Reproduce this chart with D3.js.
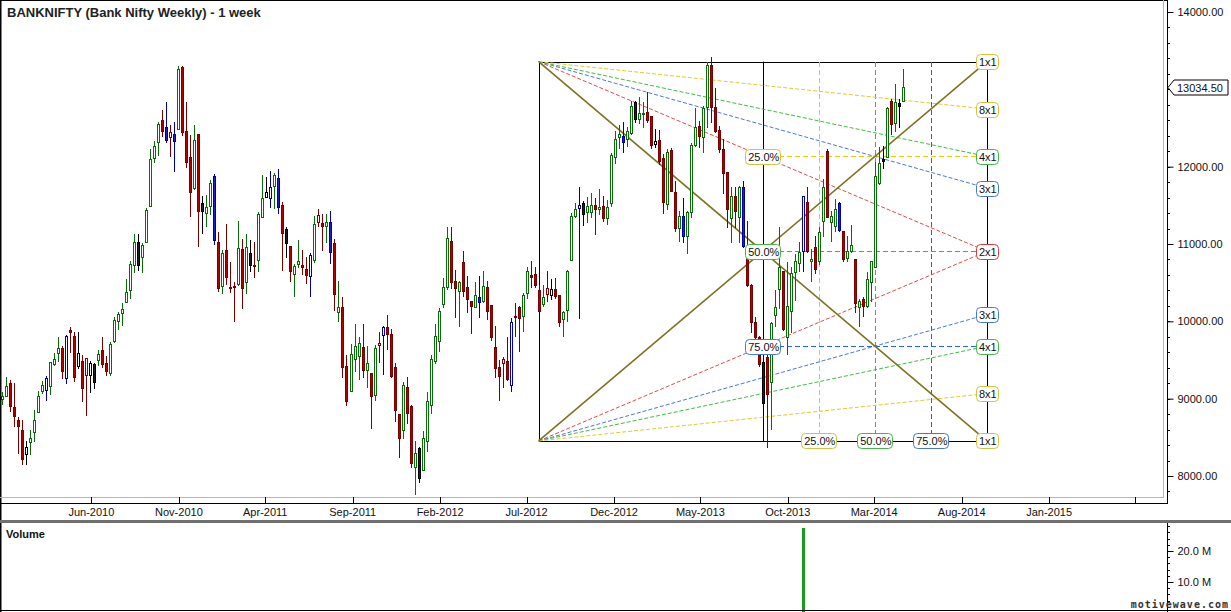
<!DOCTYPE html>
<html><head><meta charset="utf-8">
<script src="https://cdn.jsdelivr.net/npm/d3@7/dist/d3.min.js"></script>
<style>
html,body{margin:0;padding:0;background:#fff;}
svg{display:block;font-family:"Liberation Sans",Arial,Helvetica,sans-serif;}
</style></head><body>
<svg id="chart" width="1231" height="612"></svg>
<script>
// ---------------- DATA ----------------
const title = "BANKNIFTY (Bank Nifty Weekly) - 1 week";
const firstWeek = "2009-12-28";   // weekly bars, one per week from here
const opens = [8995,9038,9202,8895,8727,8598,8283,8434,8563,8822,9102,9111,9158,9447,9590,9659,9266,9892,9814,9417,
9490,9305,9305,9447,9499,9628,9460,9331,9741,10000,10107,10254,10405,10728,11030,10827,11030,11487,12112,12315,
12608,12518,12380,12423,12487,13294,12462,12129,11720,12422,11530,11400,11487,11883,11030,10452,10926,10447,10456,10482,
10935,10504,10883,10732,10792,11344,11603,11594,11745,11853,11508,11193,10978,10611,10741,10732,10680,10581,10797,11280,
11271,11228,11288,11017,10115,10189,9426,9094,9512,9546,9671,9369,9331,9046,9693,9823,9930,9836,9413,8801,
8594,9154,8908,8111,8356,8076,8447,8921,9491,9741,10224,10448,11043,10525,10396,10771,10448,10267,10180,10310,
10267,10439,10215,9672,9413,9456,9490,9176,10073,10180,10064,10362,10603,10612,10409,10224,10353,10340,10418,10340,
10030,10146,10793,11358,11466,11530,11410,11410,11509,11453,11496,11332,11530,12130,12389,12401,12358,12432,12841,12617,
12682,12712,12660,12294,12345,12113,11517,12216,11668,11207,11367,11108,11410,12281,12531,12389,12768,13320,12777,12479,
12229,11927,11336,11625,11345,11733,10979,10474,9987,9801,9469,9534,9211,10082,10418,10655,9793,10138,10634,10754,
10914,11548,10776,10966,10785,11302,12207,11280,11237,11526,11173,10819,10914,10806,10189,10289,10202,10504,10698,11789,
12095,12130,12854,12561,12824,12854];
const highs = [9081,9275,9245,9202,8757,8727,8456,8598,8857,9102,9232,9296,9478,9590,9801,9676,9823,9930,9866,9857,
9568,9525,9490,9460,9633,9801,9555,9728,10060,10124,10236,10547,10784,11129,11129,11013,11465,12229,12336,12582,
12737,12832,12539,12582,13307,13307,12832,12414,12543,12422,11625,11633,11832,11905,11159,10926,11258,10771,10512,11301,
11064,11129,11055,11021,11418,11896,11862,11948,11918,11970,11547,11215,10978,10741,11055,10926,10827,10879,11366,11452,
11387,11387,11431,11064,10525,10318,9563,9706,9965,9801,9965,9684,9331,9697,9866,9935,10081,9900,9460,8801,
9219,9275,8921,8456,8369,8585,9081,9568,9965,10168,10556,11215,11224,10663,10525,10914,10590,10267,10504,10590,
10646,10525,10215,9935,9503,9534,9792,10038,10232,10202,10362,10698,10784,10706,10469,10469,10646,10547,10560,10340,
10138,10668,11401,11530,11742,11561,11612,11660,11595,11712,11617,11574,12177,12466,12544,12574,12509,12846,12846,12906,
12833,12962,12660,12488,12475,12164,12229,12242,11819,11431,11595,11431,12307,12759,12596,12790,13350,13423,13018,12522,
12358,11927,11733,11733,11755,11819,11293,10483,10051,9814,9491,9685,9987,10405,11216,10655,10763,10698,10871,11022,
11626,11733,10935,11108,11216,11841,12229,11431,11582,11539,11173,11108,11250,10806,10289,10319,10634,10785,12057,12250,
12272,12777,12876,13070,12876,13264];
const lows = [8930,9029,8844,8650,8296,8154,8154,8283,8447,8822,9072,8982,9059,9434,9482,9262,9202,9598,9232,9391,
8964,8792,9081,9133,9434,9413,9305,9305,9728,9900,9952,10245,10297,10633,10668,10642,11021,11487,12056,12155,
12401,12315,12134,11948,12487,12414,12000,11357,11711,10969,11137,11228,11387,11000,10387,10366,10482,10374,10008,10473,
10167,10361,10646,10577,10654,11344,11603,11482,11465,11396,10667,10827,10516,10331,10706,10611,10491,10331,10762,11228,
10926,11021,10749,10146,10000,9275,8917,9094,9352,9253,9275,9154,8615,8982,9478,9318,9641,9275,8714,8240,
8486,8684,8119,7766,7917,8076,8318,8809,9456,9611,10180,10418,10430,10060,9935,10331,10116,9844,10180,10051,
10245,10030,9762,9275,8986,9146,9245,9102,9805,9611,9879,10301,10439,10448,10129,10202,10267,10289,10297,9944,
9806,9999,10793,11345,10038,11246,11280,11354,11129,11388,11302,11259,11496,12048,12238,12186,12263,12423,12574,12565,
12509,12574,12238,12251,12035,11397,11453,11681,11164,11043,11022,10884,11345,12272,12251,12186,12518,12574,12445,12186,
11655,11216,11022,11216,11022,10957,10461,9857,9750,9426,8939,8370,8607,9944,10172,9888,9577,9857,10276,10655,
10655,10892,10526,10621,10741,11108,11345,11035,11173,11173,10776,10785,10892,10116,9944,10073,10189,10267,10698,11776,
11983,12121,12423,12466,12518,12854];
const closes = [9038,9167,8900,8770,8641,8218,8369,8490,8723,9038,9176,9271,9469,9512,9654,9357,9814,9866,9275,9594,
9137,9525,9465,9219,9577,9447,9357,9710,10017,10094,10159,10383,10741,11030,10728,10987,11444,12099,12272,12552,
12466,12345,12453,12332,13263,12453,12056,11668,12349,11431,11422,11482,11788,11051,10426,10883,10568,10426,10439,10948,
10426,10965,10732,10711,11388,11594,11668,11741,11896,11474,11137,11008,10654,10711,10784,10706,10598,10861,11258,11379,
11228,11284,10892,10353,10189,9404,8964,9577,9684,9719,9369,9456,9029,9654,9719,9922,9836,9288,8852,8486,
9180,8809,8162,8296,7968,8490,8973,9512,9814,10137,10448,11077,10504,10426,10512,10387,10288,10202,10344,10245,
10461,10137,9792,9391,9296,9512,9253,9995,10051,10038,10344,10655,10577,10474,10129,10318,10431,10418,10323,9987,
10125,10646,11367,11453,11505,11388,11496,11509,11453,11483,11332,11483,12156,12358,12423,12315,12466,12790,12617,12690,
12699,12604,12281,12337,12069,11539,12194,11690,11207,11367,11108,11410,12281,12518,12401,12759,13320,12768,12466,12229,
11914,11453,11625,11423,11742,10979,10474,9987,9801,9448,8939,9060,9974,10189,10698,9900,10202,10620,10776,10901,
11617,10914,10810,10677,11151,11733,11354,11367,11453,11181,10806,10914,10991,10237,10267,10202,10547,10776,11884,12043,
12078,12759,12552,12841,12790,13034.5];
// bar-colour state of each bar as shown by the platform (g=green, r=red, b=blue, k=black)
const barState = "ggrrrrkggg"+"gbgggrbrrk"+"rrkkgrrggg"+"ggggkggggg"+"rbrbgrrrgr"+"kggbrgrrrg"+"rgkrggkbgb"+"rkrggrrbgr"+
"rgbrgrrggg"+"rgrgrbrrrr"+"grrgkggggg"+"ggrrgrrrgb"+"grrrrrrbrr"+"ggrrrgrkrr"+"ggggbkggrg"+"rggggbggkg"+
"grrkrrgrrg"+"bgggrggrrr"+"rrgrgbrrrr"+"krgggrgggg"+"brgrggrggb"+"rggrgrgggg"+"kgrgkg";
const lastPrice = 13034.50;
const priceTicks = [8000, 9000, 10000, 11000, 12000, 14000];
const timeTicks = ["2010-06-01","2010-11-01","2011-04-01","2011-09-01","2012-02-01","2012-07-01","2012-12-01",
                   "2013-05-01","2013-10-01","2014-03-01","2014-08-01","2015-01-01","2015-06-01"];
const timeTickLabels = ["Jun-2010","Nov-2010","Apr-2011","Sep-2011","Feb-2012","Jul-2012","Dec-2012",
                        "May-2013","Oct-2013","Mar-2014","Aug-2014","Jan-2015",""];
const volumeWeeks = ["2013-10-28"];
const volumeValues = [27.5e6];
const volumeTicks = [10e6, 20e6];
// Gann box
const gannStart = "2012-07-23", gannEnd = "2014-09-15";
const gannLow = 8453, gannHigh = 13358;
const fanRatios = [1, 8, 4, 3, 2];
const percentLevels = [0.25, 0.5, 0.75];

// ---------------- SETUP ----------------
const parse = d3.timeParse("%Y-%m-%d");
const t0 = parse(firstWeek);
const bars = opens.map((o, i) => ({
  date: d3.timeWeek.offset(t0, i), o, h: highs[i], l: lows[i], c: closes[i], s: barState[i]
}));

const svg = d3.select("#chart");
const W = 1231, H = 612;
const axisX = 1167, panelBottom = 497, axisY = 503, sepY = 521;

const x = d3.scaleTime().domain([new Date(2009, 11, 24), new Date(2015, 6, 27)]).range([0, axisX]);
const y = d3.scaleLinear().domain([8000, 14000]).range([476, 12]);
const yv = d3.scaleLinear().domain([0, 20e6]).range([613, 551]);

svg.append("rect").attr("width", W).attr("height", H).attr("fill", "#fff");

svg.append("clipPath").attr("id", "pclip").append("rect")
  .attr("x", 1).attr("y", 1).attr("width", axisX - 4).attr("height", panelBottom - 1);

// ---------------- GANN BOX ----------------
const g = svg.append("g").attr("clip-path", "url(#pclip)");
const gs = parse(gannStart), ge = parse(gannEnd);
const gm = new Date((+gs + +ge) / 2);
const xs = x(gs), xe = x(ge), xm = x(gm);
const yTop = y(gannHigh), yBot = y(gannLow);
const rng = gannHigh - gannLow;
const ratioColor = {1: "#d4c43a", 2: "#d83c3c", 3: "#4a78d0", 4: "#44b844", 8: "#d4c43a"};
const lineColor = {2: "#e04c4c", 3: "#4a78dc", 4: "#3cc03c", 8: "#dccc30"};
const pctColor = ["#d4c43a", "#44b844", "#4a78d0"];
const pctLine = ["#e8d000", "#1ecc1e", "#2860e8"];

g.append("rect").attr("x", Math.round(xs) + 0.5).attr("y", Math.round(yTop) + 0.5)
  .attr("width", Math.round(xe) - Math.round(xs)).attr("height", Math.round(yBot) - Math.round(yTop))
  .attr("fill", "none").attr("stroke", "#000").attr("stroke-width", 1);
g.append("line").attr("x1", Math.round(xm) + 0.5).attr("x2", Math.round(xm) + 0.5)
  .attr("y1", yTop).attr("y2", yBot).attr("stroke", "#000");

percentLevels.forEach((p, k) => {
  const vx = Math.round(x(new Date(+gm + p * (ge - gm)))) + 0.5;
  g.append("line").attr("x1", vx).attr("x2", vx).attr("y1", yTop).attr("y2", yBot)
    .attr("stroke", pctLine[k]).attr("stroke-dasharray", "5,3").attr("shape-rendering", "crispEdges");
  const hy = Math.round(y(gannHigh - p * rng)) + 0.5;
  g.append("line").attr("x1", xm).attr("x2", xe).attr("y1", hy).attr("y2", hy)
    .attr("stroke", pctLine[k]).attr("stroke-dasharray", "5,3").attr("shape-rendering", "crispEdges");
});

fanRatios.slice().reverse().forEach(r => {
  const yEndDown = y(gannHigh - rng / r), yEndUp = y(gannLow + rng / r);
  const dash = r === 1 ? null : "4,2";
  const col = r === 1 ? "#7e7222" : lineColor[r];
  const sw = r === 1 ? 1.6 : 1;
  g.append("line").attr("x1", xs).attr("y1", yTop).attr("x2", xe).attr("y2", yEndDown)
    .attr("stroke", col).attr("stroke-width", sw).attr("stroke-dasharray", dash);
  g.append("line").attr("x1", xs).attr("y1", yBot).attr("x2", xe).attr("y2", yEndUp)
    .attr("stroke", col).attr("stroke-width", sw).attr("stroke-dasharray", dash);
});

// ---------------- CANDLES ----------------
const colors = {
  g: {line: "#086c08", fill: "#086c08", hollowStroke: "#086c08"},
  r: {line: "#7a0000", fill: "#b00000", hollowStroke: "#8a0000"},
  b: {line: "#0000a0", fill: "#2020c8", hollowStroke: "#0000b0"},
  k: {line: "#000000", fill: "#202020", hollowStroke: "#000000"}
};
const cg = svg.append("g").attr("clip-path", "url(#pclip)").attr("shape-rendering", "crispEdges");
bars.forEach(b => {
  const px = Math.round(x(b.date));
  const col = colors[b.s];
  cg.append("line").attr("x1", px + 0.5).attr("x2", px + 0.5)
    .attr("y1", Math.round(y(b.h))).attr("y2", Math.round(y(b.l)) + 1)
    .attr("stroke", col.line).attr("stroke-width", 1);
  const yt = Math.round(y(Math.max(b.o, b.c))), yb = Math.round(y(Math.min(b.o, b.c)));
  const hollow = b.c > b.o;
  cg.append("rect").attr("x", px - 0.5).attr("y", yt + 0.5)
    .attr("width", 2).attr("height", Math.max(1, yb - yt))
    .attr("fill", hollow ? "#fff" : col.fill)
    .attr("stroke", hollow ? col.hollowStroke : col.line).attr("stroke-width", 1);
});

// ---------------- GANN LABELS ----------------
function tag(cx, cy, text, color, w) {
  const h = 15;
  svg.append("rect").attr("x", Math.round(cx - w / 2) + 0.5).attr("y", Math.round(cy - h / 2) + 0.5)
    .attr("width", w).attr("height", h).attr("rx", 4).attr("ry", 4)
    .attr("fill", "#fff").attr("stroke", color).attr("stroke-width", 1);
  svg.append("text").attr("x", cx + 1).attr("y", cy + 4.5).attr("text-anchor", "middle")
    .attr("font-size", 11).attr("fill", "#111").text(text);
}
percentLevels.forEach((p, k) => {
  tag(xm, y(gannHigh - p * rng), (p * 100).toFixed(1) + "%", pctColor[k], 35);
  tag(x(new Date(+gm + p * (ge - gm))), yBot, (p * 100).toFixed(1) + "%", pctColor[k], 35);
});
fanRatios.forEach(r => {
  tag(xe, y(gannHigh - rng / r), r + "x1", ratioColor[r], 22);
  if (r !== 2) tag(xe, y(gannLow + rng / r), r + "x1", ratioColor[r], 22);
});

// ---------------- FRAME & AXES ----------------
svg.append("line").attr("x1", 0).attr("x2", axisX).attr("y1", 0.5).attr("y2", 0.5).attr("stroke", "#000");
svg.append("line").attr("x1", 0.5).attr("x2", 0.5).attr("y1", 0).attr("y2", H).attr("stroke", "#000").attr("stroke-width", 2);
svg.append("line").attr("x1", 0).attr("x2", axisX - 3).attr("y1", panelBottom + 0.5).attr("y2", panelBottom + 0.5)
  .attr("stroke", "#b8b8a8");
svg.append("line").attr("x1", axisX - 3.5).attr("x2", axisX - 3.5).attr("y1", 0).attr("y2", panelBottom + 1)
  .attr("stroke", "#b8b8a8");

const xAxis = d3.axisBottom(x)
  .tickValues(timeTicks.map(parse))
  .tickFormat((d, i) => timeTickLabels[i])
  .tickSize(0).tickPadding(0);
const xa = svg.append("g").attr("transform", `translate(0,${axisY})`).call(xAxis);
xa.select(".domain").remove();
xa.selectAll(".tick line").remove();
xa.selectAll(".tick").append("line").attr("x1", 0.5).attr("x2", 0.5).attr("y1", -6).attr("y2", 0)
  .attr("stroke", "#000").attr("shape-rendering", "crispEdges");
xa.selectAll(".tick text").attr("y", 13).attr("dy", 0).attr("font-size", 11)
  .attr("font-family", "'Liberation Sans', Arial, sans-serif").attr("fill", "#111");
svg.append("line").attr("x1", 0).attr("x2", axisX).attr("y1", axisY + 0.5).attr("y2", axisY + 0.5)
  .attr("stroke", "#000");

const yAxis = d3.axisRight(y).tickValues(priceTicks).tickFormat(d3.format(".2f")).tickSize(6).tickPadding(4);
const ya = svg.append("g").attr("transform", `translate(${axisX + 0.5},0)`).call(yAxis);
ya.select(".domain").remove();
ya.selectAll(".tick text").attr("font-size", 11).attr("fill", "#111")
  .attr("font-family", "'Liberation Sans', Arial, sans-serif");
const minorTicks = d3.range(7800, 14200, 200).filter(v => y(v) > 1 && y(v) < axisY);
svg.append("g").selectAll("line").data(minorTicks).join("line")
  .attr("x1", axisX).attr("x2", axisX + 3)
  .attr("y1", d => Math.round(y(d)) + 0.5).attr("y2", d => Math.round(y(d)) + 0.5)
  .attr("stroke", "#000").attr("shape-rendering", "crispEdges");
svg.append("line").attr("x1", axisX + 0.5).attr("x2", axisX + 0.5).attr("y1", 0).attr("y2", axisY + 1)
  .attr("stroke", "#000");

const ly = Math.round(y(lastPrice)) + 0.5;
svg.append("path").attr("d", `M${axisX + 1},${ly} L${axisX + 7},${ly - 7.5} L${W - 3},${ly - 7.5} L${W - 3},${ly + 7.5} L${axisX + 7},${ly + 7.5} Z`)
  .attr("fill", "#fff").attr("stroke", "#000").attr("stroke-width", 1);
svg.append("text").attr("x", axisX + 10).attr("y", ly + 4).attr("font-size", 11).attr("fill", "#111")
  .text(lastPrice.toFixed(2));

svg.append("text").attr("x", 7).attr("y", 17).attr("font-size", 13).attr("font-weight", "bold")
  .attr("fill", "#222").text(title);

// ---------------- VOLUME PANEL ----------------
svg.append("rect").attr("x", 0).attr("y", sepY - 1).attr("width", W).attr("height", 3).attr("fill", "#707070");
svg.append("text").attr("x", 6).attr("y", 538).attr("font-size", 11).attr("font-weight", "bold")
  .attr("fill", "#111").text("Volume");
svg.append("g").attr("shape-rendering", "crispEdges").selectAll("rect")
  .data(volumeWeeks.map((d, i) => ({date: parse(d), v: volumeValues[i]})))
  .join("rect")
  .attr("x", d => Math.round(x(d.date)) - 1).attr("width", 3)
  .attr("y", d => yv(d.v)).attr("height", d => yv(0) - yv(d.v))
  .attr("fill", "#1a9a1a");
const yvAxis = d3.axisRight(yv).tickValues(volumeTicks).tickFormat(d => (d / 1e6).toFixed(1) + " M")
  .tickSize(6).tickPadding(4);
const va = svg.append("g").attr("transform", `translate(${axisX + 0.5},0)`).call(yvAxis);
va.select(".domain").remove();
va.selectAll(".tick text").attr("font-size", 11).attr("fill", "#111")
  .attr("font-family", "'Liberation Sans', Arial, sans-serif");
svg.append("g").selectAll("line").data(d3.range(2e6, 30e6, 2e6).filter(v => yv(v) > sepY + 3)).join("line")
  .attr("x1", axisX).attr("x2", axisX + 3)
  .attr("y1", d => Math.round(yv(d)) + 0.5).attr("y2", d => Math.round(yv(d)) + 0.5)
  .attr("stroke", "#000").attr("shape-rendering", "crispEdges");
svg.append("line").attr("x1", axisX + 0.5).attr("x2", axisX + 0.5).attr("y1", sepY + 2).attr("y2", H)
  .attr("stroke", "#000");
svg.append("line").attr("x1", 0).attr("x2", W).attr("y1", H - 1.5).attr("y2", H - 1.5).attr("stroke", "#000");

svg.append("text").attr("x", W - 2).attr("y", H - 4).attr("text-anchor", "end")
  .attr("font-size", 10).attr("font-weight", "bold").attr("letter-spacing", 1)
  .attr("font-family", "'DejaVu Sans Mono', monospace").attr("fill", "#333").text("motivewave.com");
</script>
</body></html>
